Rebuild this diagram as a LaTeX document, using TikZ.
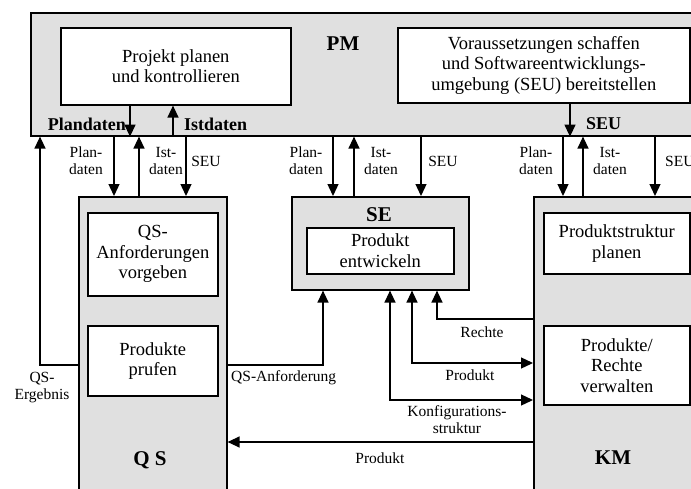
\documentclass[tikz,border=0pt]{standalone}
\usepackage{fontspec}
\setmainfont{Liberation Serif}
\usetikzlibrary{arrows.meta}
\definecolor{panel}{gray}{0.88}

\tikzset{
  frame/.style={draw, line width=1.6pt, fill=panel, anchor=north west, inner sep=0pt},
  task/.style={draw, line width=1.6pt, fill=white, anchor=north west, align=center,
    inner sep=0pt, font=\fontsize{18.5}{20.5}\selectfont},
  tip/.style={Triangle[length=12pt,width=11pt]},
  flow/.style={line width=1.3pt, -{Triangle[length=12pt,width=11pt]}},
  biflow/.style={line width=1.3pt, {Triangle[length=12pt,width=11pt]}-{Triangle[length=12pt,width=11pt]}},
  lbl/.style={inner sep=0pt, align=center, font=\fontsize{15.5}{17}\selectfont},
  blbl/.style={inner sep=0pt, font=\bfseries\fontsize{18}{20}\selectfont},
  title/.style={inner sep=0pt, font=\bfseries\fontsize{21}{24}\selectfont},
}

\begin{document}
\begin{tikzpicture}[x=1pt,y=-1pt]
\clip (0,0) rectangle (691,488);
\fill[white] (0,0) rectangle (691,488);

% ---- project management ----
\node[frame, minimum width=700pt, minimum height=123pt] (PM) at (30,12) {};
\node[title] (pmname) at (343,44) {PM};
\node[task, minimum width=230pt, minimum height=77pt] (plan) at (60,27)
  {Projekt planen\\und kontrollieren};
\node[task, minimum width=292pt, minimum height=75pt] (vor) at (397,27)
  {Voraussetzungen schaffen\\und Softwareentwicklungs-\\umgebung (SEU) bereitstellen};

% ---- quality assurance ----
\node[frame, minimum width=148pt, minimum height=330pt] (QS) at (78,196) {};
\node[task, minimum width=130pt, minimum height=83pt] (qsreq) at (87,212)
  {QS-\\Anforderungen\\vorgeben};
\node[task, minimum width=130pt, minimum height=70pt] (qscheck) at (87,325)
  {Produkte\\prufen};
\node[title] (qsname) at (150,460) {Q S};

% ---- software development ----
\node[frame, minimum width=177pt, minimum height=93pt] (SE) at (291,196) {};
\node[title] (sename) at (379,215) {SE};
\node[task, minimum width=147pt, minimum height=46pt] (dev) at (306,227)
  {Produkt\\entwickeln};

% ---- configuration management ----
\node[frame, minimum width=200pt, minimum height=330pt] (KM) at (533,196) {};
\node[task, minimum width=146pt, minimum height=61pt] (struct) at (543,212)
  {Produktstruktur\\planen};
\node[task, minimum width=146pt, minimum height=79pt] (admin) at (543,325)
  {Produkte/\\Rechte\\verwalten};
\node[title] (kmname) at (613,458) {KM};

% ---- connector positions ----
\coordinate (pmPlan) at (130,0);
\coordinate (pmIst)  at (173,0);
\coordinate (pmSeu)  at (570,0);
\coordinate (qsPlan) at (114,0);
\coordinate (qsIst)  at (139,0);
\coordinate (qsSeu)  at (186,0);
\coordinate (sePlan) at (333,0);
\coordinate (seIst)  at (354,0);
\coordinate (seSeu)  at (421,0);
\coordinate (kmPlan) at (563,0);
\coordinate (kmIst)  at (583,0);
\coordinate (kmSeu)  at (655,0);
\coordinate (ergX)   at (40,0);
\coordinate (anfX)   at (323,0);
\coordinate (rechX)  at (437,0);
\coordinate (prodX)  at (412,0);
\coordinate (konfX)  at (390,0);
\coordinate (qsOutY) at (0,365);
\coordinate (rechY)  at (0,319);
\coordinate (prodY)  at (0,363);
\coordinate (konfY)  at (0,400);
\coordinate (backY)  at (0,442);

% ---- flows inside PM ----
\draw[flow] (plan.south -| pmPlan) -- (PM.south -| pmPlan);
\draw[flow] (PM.south -| pmIst) -- (plan.south -| pmIst);
\draw[flow] (vor.south -| pmSeu) -- (PM.south -| pmSeu);
\node[blbl, anchor=east] (lPlan) at (126,124) {Plandaten};
\node[blbl, anchor=west] (lIst)  at (184,124) {Istdaten};
\node[blbl, anchor=west] (lSeu)  at (586,124) {SEU};

% ---- PM <-> QS ----
\draw[flow] (PM.south -| qsPlan) -- (QS.north -| qsPlan);
\draw[flow] (QS.north -| qsIst) -- (PM.south -| qsIst);
\draw[flow] (PM.south -| qsSeu) -- (QS.north -| qsSeu);
\node[lbl] (l1) at (86,161) {Plan-\\daten};
\node[lbl] (l2) at (166,161) {Ist-\\daten};
\node[lbl] (l3) at (206,161) {SEU};

% ---- PM <-> SE ----
\draw[flow] (PM.south -| sePlan) -- (SE.north -| sePlan);
\draw[flow] (SE.north -| seIst) -- (PM.south -| seIst);
\draw[flow] (PM.south -| seSeu) -- (SE.north -| seSeu);
\node[lbl] (l4) at (306,161) {Plan-\\daten};
\node[lbl] (l5) at (381,161) {Ist-\\daten};
\node[lbl] (l6) at (443,161) {SEU};

% ---- PM <-> KM ----
\draw[flow] (PM.south -| kmPlan) -- (KM.north -| kmPlan);
\draw[flow] (KM.north -| kmIst) -- (PM.south -| kmIst);
\draw[flow] (PM.south -| kmSeu) -- (KM.north -| kmSeu);
\node[lbl] (l7) at (536,161) {Plan-\\daten};
\node[lbl] (l8) at (610,161) {Ist-\\daten};
\node[lbl, anchor=west] (l9) at (665,161) {SEU};

% ---- QS results and requirements ----
\draw[flow] (QS.west |- qsOutY) -| (PM.south -| ergX);
\node[lbl] (lErg) at (42,388) {QS-\\Ergebnis};
\draw[flow] (QS.east |- qsOutY) -| (SE.south -| anfX);
\node[lbl, anchor=west] (lAnf) at (231,378) {QS-Anforderung};

% ---- SE <-> KM ----
\draw[flow] (KM.west |- rechY) -| (SE.south -| rechX);
\node[lbl] (lRech) at (482,332) {Rechte};
\draw[biflow] (SE.south -| prodX) |- (KM.west |- prodY);
\node[lbl] (lProd) at (470,375) {Produkt};
\draw[biflow] (SE.south -| konfX) |- (KM.west |- konfY);
\node[lbl] (lKonf) at (457,420) {Konfigurations-\\struktur};

% ---- KM -> QS ----
\draw[flow] (KM.west |- backY) -- (QS.east |- backY);
\node[lbl] (lBack) at (380,458) {Produkt};
\end{tikzpicture}
\end{document}
